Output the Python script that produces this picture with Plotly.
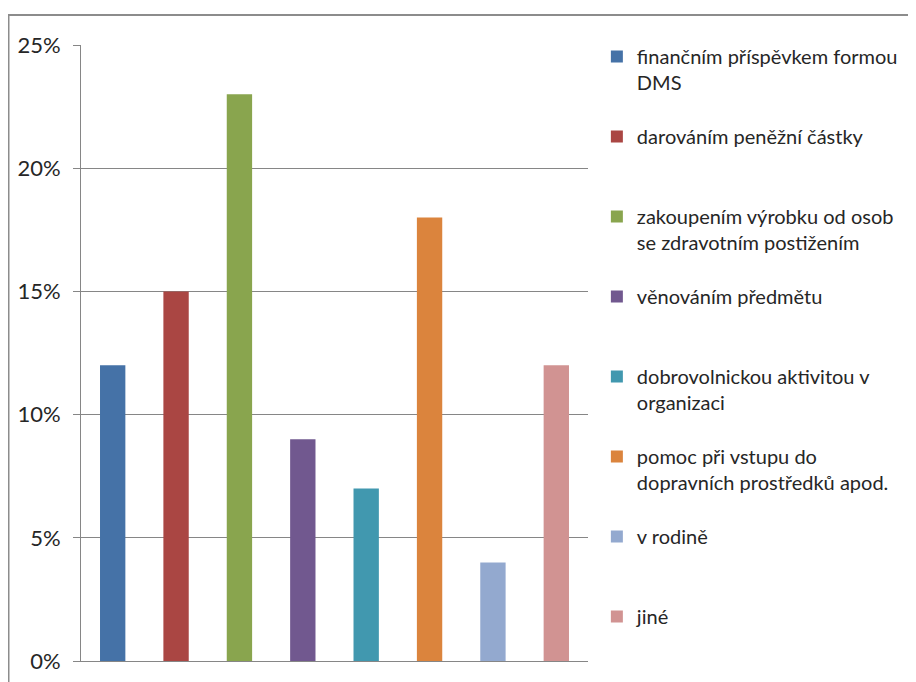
import plotly.graph_objects as go

categories = [
    "finančním příspěvkem formou<br>DMS",
    "darováním peněžní částky",
    "zakoupením výrobku od osob<br>se zdravotním postižením",
    "věnováním předmětu",
    "dobrovolnickou aktivitou v<br>organizaci",
    "pomoc při vstupu do<br>dopravních prostředků apod.",
    "v rodině",
    "jiné",
]
values = [0.12, 0.15, 0.23, 0.09, 0.07, 0.18, 0.04, 0.12]
colors = ["#4572A7", "#AA4643", "#89A54E", "#71588F", "#4198AF", "#DB843D", "#93A9CF", "#D19392"]
y_ticks = [0, 0.05, 0.10, 0.15, 0.20, 0.25]

FONT = "Lato, sans-serif"

fig = go.Figure()
for i, (cat, val, col) in enumerate(zip(categories, values, colors)):
    name = cat if "<br>" in cat else cat + "<br> "
    fig.add_trace(go.Bar(
        x=[f"c{i}"], y=[val], name=name, marker_color=col,
        marker_line_width=0, legendgroup=f"g{i}",
        hoverinfo="skip",
    ))

# page body has an 8px margin, so offsets are compensated
fig.update_layout(
    width=916, height=682,
    margin=dict(l=73, r=336, t=37, b=29, autoexpand=False),
    paper_bgcolor="white", plot_bgcolor="white",
    barmode="overlay", bargap=0.6,
    font=dict(family=FONT, size=22, color="#262626"),
    legend=dict(
        x=1.0175, xanchor="left", y=1.013, yanchor="top",
        valign="top", tracegroupgap=25, maxheight=800,
        font=dict(family=FONT, size=20, color="#262626"),
        bgcolor="rgba(0,0,0,0)",
    ),
    xaxis=dict(
        categoryorder="array", categoryarray=[f"c{i}" for i in range(len(categories))],
        showticklabels=False, ticks="", showgrid=False,
        showline=True, linecolor="#868686", linewidth=1, automargin=False,
    ),
    yaxis=dict(
        range=[0, 0.25], tickvals=y_ticks, tickformat=".0%",
        showgrid=True, gridcolor="#868686", gridwidth=1,
        showline=True, linecolor="#868686", linewidth=1,
        ticks="outside", ticklen=7, tickcolor="#868686",
        ticklabelstandoff=8, zeroline=False, automargin=False,
    ),
    showlegend=True,
)

fig.add_shape(
    type="rect", xref="paper", yref="paper",
    x0=(8.5 - 81) / 507, x1=1.8, y0=-0.2, y1=(661 - 15) / 616,
    line=dict(color="#8c8c8c", width=2), fillcolor="rgba(0,0,0,0)", layer="above",
)

fig.write_html("out.html")
